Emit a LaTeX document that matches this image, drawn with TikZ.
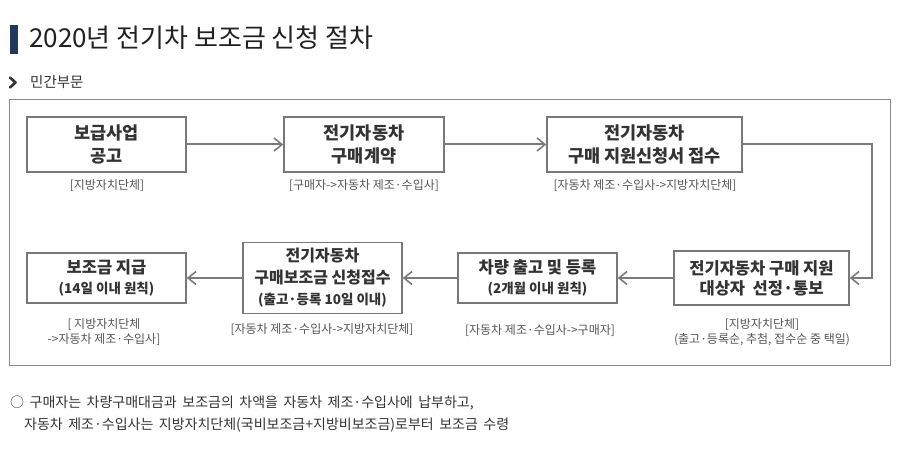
\documentclass[tikz,border=0pt]{standalone}
\usepackage{fontspec}
\setmainfont{Noto Sans CJK KR}
\usetikzlibrary{arrows.meta}
\definecolor{navy}{HTML}{1F3A5C}
\definecolor{boxgray}{HTML}{787878}
\definecolor{arrgray}{HTML}{7A7A7A}
\definecolor{txt}{HTML}{333333}
\definecolor{capgray}{HTML}{555555}
\definecolor{framegray}{HTML}{8A8A8A}
\newcommand{\footfont}{\fontsize{14}{18}\selectfont\spaceskip=5.5pt\relax}
\tikzset{
  box/.style={draw=boxgray, line width=1.5pt, fill=white, align=center, text=txt, inner sep=0pt},
  rowone/.style={font=\bfseries\fontsize{17.5}{23}\selectfont},
  rowtwo/.style={font=\bfseries\fontsize{16.5}{20}\selectfont},
  captxt/.style={text=capgray, font=\fontsize{12}{15}\selectfont, align=center, inner sep=0pt},
  foot/.style={anchor=west, inner sep=0pt, text=txt, font=\footfont},
  arr/.style={draw=arrgray, line width=2pt, -{Straight Barb[length=8pt,width=13pt,line width=1.6pt]}}
}
\newcommand{\subnote}[1]{{\fontsize{13.5}{18}\selectfont #1}}
\begin{document}
\begin{tikzpicture}[x=1pt,y=-1pt]
\useasboundingbox (0,0) rectangle (904,457);
% title
\fill[navy] (10,25) rectangle (18,54);
\node[anchor=base west, inner sep=0pt, text=black!87, font=\fontsize{26}{30}\selectfont] (title) at (29,48) {2020년 전기차 보조금 신청 절차};
% section
\draw[line width=2.6pt, draw=black!80, line cap=round, line join=round] (10,77.5) -- (15.5,82.5) -- (10,87.5);
\node[anchor=west, inner sep=0pt, text=txt, font=\fontsize{14.5}{18}\selectfont] (sect) at (30,82) {민간부문};
% frame
\draw[framegray, line width=1pt] (9,100) rectangle (890,365);
% boxes
\node[box, rowone, minimum width=159pt, minimum height=55pt] (b1) at (106.5,144.5) {보급사업\\공고};
\node[box, rowone, minimum width=160pt, minimum height=55pt] (b2) at (364,144.5) {전기자동차\\구매계약};
\node[box, rowone, minimum width=195pt, minimum height=55pt] (b3) at (644.5,144.5) {전기자동차\\구매 지원신청서 접수};
\node[box, rowtwo, minimum width=175pt, minimum height=54pt] (b4) at (761.5,278) {전기자동차 구매 지원\\대상자 \ 선정·통보};
\node[box, rowtwo, minimum width=159pt, minimum height=50pt] (b5) at (537.5,278) {차량 출고 및 등록\\\subnote{(2개월 이내 원칙)}};
\node[box, font=\bfseries\fontsize{16}{21.5}\selectfont, minimum width=159pt, minimum height=71pt] (b6) at (322.5,278) {전기자동차\\구매보조금 신청접수\\\subnote{(출고·등록 10일 이내)}};
\node[box, rowtwo, minimum width=159pt, minimum height=50pt] (b7) at (106.5,278) {보조금 지급\\\subnote{(14일 이내 원칙)}};
% captions
\node[captxt] (c1) at (107,186) {[지방자치단체]};
\node[captxt] (c2) at (364,186) {[구매자->자동차 제조·수입사]};
\node[captxt] (c3) at (645,186) {[자동차 제조·수입사->지방자치단체]};
\node[captxt] (c4) at (762,332) {[지방자치단체]\\(출고·등록순, 추첨, 접수순 중 택일)};
\node[captxt] (c5) at (540,331) {[자동차 제조·수입사->구매자]};
\node[captxt] (c6) at (322,330) {[자동차 제조·수입사->지방자치단체]};
\node[captxt] (c7) at (104,332) {[ 지방자치단체\\->자동차 제조·수입사]};
% connectors
\coordinate (k1) at (872,144.5);
\coordinate (k2) at (872,278);
\draw[arr] (b1) -- (b2);
\draw[arr] (b2) -- (b3);
\draw[arr] (b3.east) -- (k1) -- (k2) -- (b4.east);
\draw[arr] (b4) -- (b5);
\draw[arr] (b5) -- (b6);
\draw[arr] (b6) -- (b7);
% footer
\node[foot] (f1) at (10,403) {○ 구매자는 차량구매대금과 보조금의 차액을 자동차 제조·수입사에 납부하고,};
\node[foot] (f2) at (24,425) {자동차 제조·수입사는 지방자치단체(국비보조금+지방비보조금)로부터 보조금 수령};
\end{tikzpicture}
\end{document}
